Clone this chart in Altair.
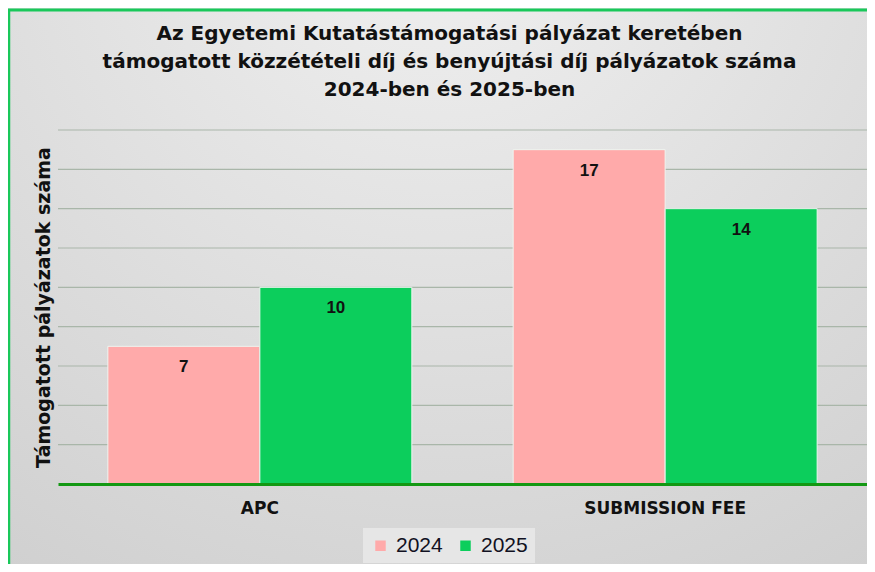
import altair as alt
import pandas as pd

categories = ["APC", "SUBMISSION FEE"]
years = ["2024", "2025"]
values_2024 = [7, 17]
values_2025 = [10, 14]
grid_values = [2, 4, 6, 8, 10, 12, 14, 16, 18]
title_lines = [
    "Az Egyetemi Kutatástámogatási  pályázat keretében",
    "támogatott közzétételi díj és benyújtási díj pályázatok  száma",
    "2024-ben és 2025-ben",
]
y_title = "Támogatott pályázatok száma"
bar_colors = ["#FFAAAA", "#0CCE5C"]

rows = []
for i, c in enumerate(categories):
    rows.append({"category": c, "year": years[0], "value": values_2024[i]})
    rows.append({"category": c, "year": years[1], "value": values_2025[i]})
df = pd.DataFrame(rows)
grid_df = pd.DataFrame({"v": grid_values})
one = pd.DataFrame({"k": [0]})

W, H = 809, 354
PL, PT, PR, PB = 50, 122, 0, 80
SANS = "Liberation Sans, Arial"
WIDE = "DejaVu Sans, Verdana, Liberation Sans"

y_axis = alt.Axis(
    title=y_title, labels=False, ticks=False, domain=False, grid=False,
    titleFont=WIDE, titleFontSize=19, titleFontWeight="bold", titleColor="#111111",
    titlePadding=5, zindex=1,
)
y_scale = alt.Scale(domain=[0, 18], nice=False)
x_enc = alt.X(
    "category:N", sort=categories,
    scale=alt.Scale(paddingInner=0.25, paddingOuter=0.123),
    axis=alt.Axis(
        title=None, labelAngle=0, ticks=False, grid=False,
        domainColor="#139813", domainWidth=3, zindex=1,
        labelFont=WIDE, labelFontSize=17, labelFontWeight="bold",
        labelColor="#111111", labelPadding=16,
    ),
)

bg_gradient = alt.RadialGradient(
    gradient="radial",
    stops=[alt.GradientStop(offset=0, color="#f1f1f1"),
           alt.GradientStop(offset=1, color="#c8c8c8")],
    x1=0.5, y1=0.05, x2=0.5, y2=0.05, r1=0, r2=1.15,
)

background = alt.Chart(one).mark_rect(color=bg_gradient).encode(
    x=alt.value(-PL), x2=alt.value(W + PR), y=alt.value(-PT), y2=alt.value(H + PB)
)
border_top = alt.Chart(one).mark_rule(color="#19C85A", strokeWidth=3).encode(
    x=alt.value(-PL), x2=alt.value(W + PR), y=alt.value(-PT + 2)
)
border_left = alt.Chart(one).mark_rule(color="#19C85A", strokeWidth=2.5).encode(
    x=alt.value(-PL + 1), y=alt.value(-PT + 1), y2=alt.value(H + PB)
)

grid = alt.Chart(grid_df).mark_rule(color="#a9b6a9", strokeWidth=1.2).encode(
    y=alt.Y("v:Q", scale=y_scale, axis=y_axis),
    x=alt.value(0), x2=alt.value(W),
)

base = alt.Chart(df).encode(
    x=x_enc,
    xOffset=alt.XOffset("year:N", sort=years, scale=alt.Scale(paddingInner=0.0)),
    y=alt.Y("value:Q", scale=y_scale, axis=y_axis),
)

bars = base.mark_bar(stroke="#eef5f0", strokeWidth=1).encode(
    color=alt.Color(
        "year:N", sort=years,
        scale=alt.Scale(domain=years, range=bar_colors),
        legend=alt.Legend(
            title=None, orient="none", direction="horizontal",
            legendX=305, legendY=398, padding=7, fillColor="#e6e6e6",
            symbolType="square", symbolSize=110, symbolStrokeWidth=0,
            labelFont=SANS, labelFontSize=21, labelColor="#111122",
            labelOffset=5, columnPadding=12,
        ),
    )
)

labels = base.mark_text(
    font=SANS, fontSize=17, fontWeight="bold", color="#111111",
    baseline="middle", dy=21,
).encode(text=alt.Text("value:Q"))

chart = alt.layer(background, border_top, border_left, grid, bars, labels).properties(
    width=W, height=H,
    autosize=alt.AutoSizeParams(type="none"),
    padding={"left": PL, "top": PT, "right": PR, "bottom": PB},
    title=alt.TitleParams(
        text=title_lines, font=WIDE, fontSize=20, fontWeight="bold",
        color="#111111", anchor="middle", frame="group", offset=-92,
        lineHeight=28, dx=-13,
    ),
).configure_view(stroke=None).configure(background="#d6d6d6")

chart.save("out.html", embed_options={"renderer": "svg", "actions": False})
